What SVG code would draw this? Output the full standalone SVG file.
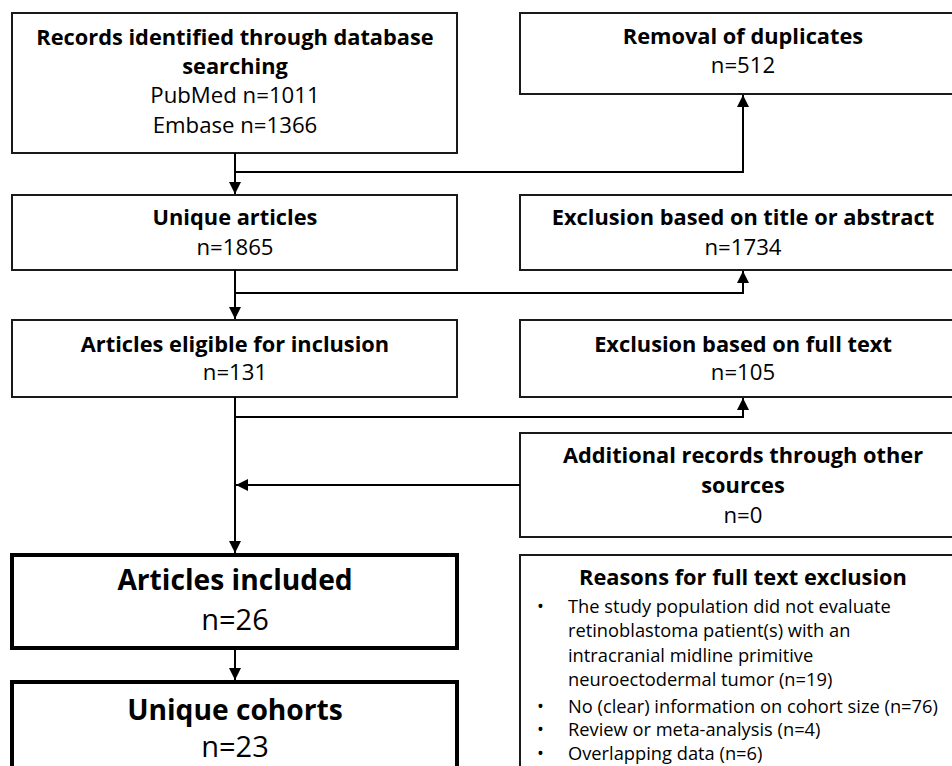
<svg xmlns="http://www.w3.org/2000/svg" width="952" height="766" viewBox="0 0 952 766">
<defs>
<marker id="ah" viewBox="0 0 12 12" refX="12" refY="6" markerWidth="12" markerHeight="12" markerUnits="userSpaceOnUse" orient="auto">
<path d="M0,0 L12,6 L0,12 z" fill="#000"/>
</marker>
</defs>
<style>
.box{fill:#fff;stroke:#1a1a1a;stroke-width:2}
.thick{fill:#fff;stroke:#000;stroke-width:4}
.b{font-family:"Open Sans","Liberation Sans",sans-serif;font-weight:bold;font-size:21.8px;fill:#000;text-anchor:middle}
.r{font-family:"Open Sans","Liberation Sans",sans-serif;font-size:22.2px;fill:#000;text-anchor:middle}
.bl{font-family:"Open Sans","Liberation Sans",sans-serif;font-weight:bold;font-size:28.2px;fill:#000;text-anchor:middle}
.rl{font-family:"Open Sans","Liberation Sans",sans-serif;font-size:29px;fill:#000;text-anchor:middle}
.li{font-family:"Open Sans","Liberation Sans",sans-serif;font-size:18.3px;fill:#000}
.c{fill:none;stroke:#000;stroke-width:2}
</style>
<rect width="952" height="766" fill="#fff"/>
<g id="records">
<rect class="box" x="12" y="13" width="445" height="140"/>
<text class="b" x="235" y="45">Records identified through database</text>
<text class="b" x="235" y="74">searching</text>
<text class="r" x="235" y="103">PubMed n=1011</text>
<text class="r" x="235" y="133">Embase n=1366</text>
</g>
<g id="removal">
<rect class="box" x="520" y="13" width="446" height="81"/>
<text class="b" x="743" y="44">Removal of duplicates</text>
<text class="r" x="743" y="73">n=512</text>
</g>
<g id="unique-articles">
<rect class="box" x="12" y="195" width="445" height="75"/>
<text class="b" x="235" y="225">Unique articles</text>
<text class="r" x="235" y="255">n=1865</text>
</g>
<g id="excl-title">
<rect class="box" x="520" y="195" width="446" height="75"/>
<text class="b" x="743" y="225">Exclusion based on title or abstract</text>
<text class="r" x="743" y="255">n=1734</text>
</g>
<g id="eligible">
<rect class="box" x="12" y="320" width="445" height="77"/>
<text class="b" x="235" y="352">Articles eligible for inclusion</text>
<text class="r" x="235" y="380">n=131</text>
</g>
<g id="excl-full">
<rect class="box" x="520" y="320" width="446" height="77"/>
<text class="b" x="743" y="352">Exclusion based on full text</text>
<text class="r" x="743" y="380">n=105</text>
</g>
<g id="additional">
<rect class="box" x="520" y="433" width="446" height="104"/>
<text class="b" x="743" y="463">Additional records through other</text>
<text class="b" x="743" y="493">sources</text>
<text class="r" x="743" y="523">n=0</text>
</g>
<g id="included">
<rect class="thick" x="12" y="555" width="445" height="93"/>
<text class="bl" x="235" y="590">Articles included</text>
<text class="rl" x="235" y="630">n=26</text>
</g>
<g id="cohorts">
<rect class="thick" x="12" y="682" width="445" height="100"/>
<text class="bl" x="235" y="720">Unique cohorts</text>
<text class="rl" x="235" y="757">n=23</text>
</g>
<g id="reasons">
<rect class="box" x="520" y="555" width="446" height="230"/>
<text class="b" x="743" y="585">Reasons for full text exclusion</text>
<g class="li">
<text x="537" y="613">•</text><text x="568" y="613">The study population did not evaluate</text>
<text x="568" y="637">retinoblastoma patient(s) with an</text>
<text x="568" y="662">intracranial midline primitive</text>
<text x="568" y="686">neuroectodermal tumor (n=19)</text>
<text x="537" y="713">•</text><text x="568" y="713">No (clear) information on cohort size (n=76)</text>
<text x="537" y="736">•</text><text x="568" y="736">Review or meta-analysis (n=4)</text>
<text x="537" y="760">•</text><text x="568" y="760">Overlapping data (n=6)</text>
</g>
</g>
<g id="connectors">
<line class="c" x1="235" y1="153" x2="235" y2="194" marker-end="url(#ah)"/>
<polyline class="c" points="235,172 743,172 743,95" marker-end="url(#ah)"/>
<line class="c" x1="235" y1="270" x2="235" y2="319" marker-end="url(#ah)"/>
<polyline class="c" points="235,293 743,293 743,271" marker-end="url(#ah)"/>
<line class="c" x1="235" y1="397" x2="235" y2="553" marker-end="url(#ah)"/>
<polyline class="c" points="235,417 743,417 743,398" marker-end="url(#ah)"/>
<line class="c" x1="520" y1="485" x2="236" y2="485" marker-end="url(#ah)"/>
<line class="c" x1="235" y1="648" x2="235" y2="680" marker-end="url(#ah)"/>
</g>
</svg>
